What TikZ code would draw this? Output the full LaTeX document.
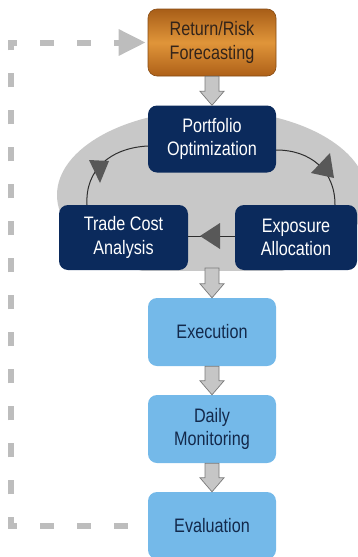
\documentclass[tikz,border=0pt]{standalone}
\usepackage{fontspec}
\setmainfont{Liberation Sans}[FakeStretch=0.83]
\usetikzlibrary{arrows.meta,calc}
\definecolor{navy}{HTML}{0B2A5C}
\definecolor{lblue}{HTML}{74B9E9}
\definecolor{btext}{HTML}{13294B}
\definecolor{ellgray}{HTML}{C8C8C8}
\definecolor{dashgray}{HTML}{BDBDBD}
\definecolor{arrfill}{HTML}{C6C6C6}
\definecolor{arrdraw}{HTML}{7A7A7A}
\definecolor{headgray}{HTML}{585858}
\definecolor{cyclegray}{HTML}{2E2E2E}
\definecolor{orgtop}{HTML}{A85E18}
\definecolor{orgmid}{HTML}{E0953A}
\definecolor{orgbot}{HTML}{AE6018}
\definecolor{orgtext}{HTML}{33241A}
\newcommand\bdarrow[2]{%
  \draw[blockarr] ($(#1)+(-7,0)$) -- ($(#2)+(-7,-14)$) -- ($(#2)+(-12,-14)$) -- (#2)
    -- ($(#2)+(12,-14)$) -- ($(#2)+(7,-14)$) -- ($(#1)+(7,0)$) -- cycle;}
\tikzset{
  box/.style={rounded corners=9pt, minimum width=128pt, minimum height=67pt,
    align=center, inner sep=0pt, font=\fontsize{19.5}{23.5}\selectfont},
  orangebox/.style={box, draw=orgtop!80!black, line width=0.6pt, top color=orgtop, bottom color=orgbot, middle color=orgmid, text=orgtext},
  navybox/.style={box, fill=navy, text=white},
  bluebox/.style={box, fill=lblue, text=btext},
  blockarr/.style={fill=arrfill, draw=arrdraw, line width=0.7pt, line join=miter},
  cycleline/.style={draw=cyclegray, line width=1pt},
  headtri/.style={fill=headgray},
  dashline/.style={draw=dashgray, line width=6pt, dash pattern=on 14pt off 23pt,
    -{Triangle[length=27pt,width=25pt]}}
}
\begin{document}
\begin{tikzpicture}[x=1pt,y=-1pt]
\useasboundingbox (0,0) rectangle (358,557);
% gray ellipse background
\begin{scope}
  \clip (0,0) rectangle (358,270);
  \fill[ellgray] (212,195) ellipse [x radius=155, y radius=85];
\end{scope}
% nodes
\node[orangebox] (ret) at (212,42.5) {Return/Risk\\Forecasting};
\node[navybox] (port) at (212,139) {Portfolio\\Optimization};
\node[navybox, minimum width=129pt, minimum height=65pt] (tca) at (123.5,237.5) {Trade Cost\\Analysis};
\node[navybox, minimum width=122pt, minimum height=65pt] (expo) at (296,237.5) {Exposure\\Allocation};
\node[bluebox, minimum height=68pt] (exec) at (212,332) {Execution};
\node[bluebox, minimum height=68pt] (daily) at (212,429) {Daily\\Monitoring};
\node[bluebox] (eval) at (212,525.5) {Evaluation};
% cycle connectors
\draw[cycleline] (port.east |- 0,150) .. controls (310,150) and (335,170) .. (expo.north -| 335,0);
\draw[cycleline] (expo.west |- 0,236) -- (tca.east |- 0,236);
\draw[cycleline] (tca.north -| 87,0) .. controls (85,170) and (110,148) .. (port.west |- 0,146);
\fill[headtri] (311,173) -- (330,153) -- (334,178) -- cycle;
\fill[headtri] (200,236) -- (220,223) -- (220,249) -- cycle;
\fill[headtri] (89,160) -- (109,161) -- (100,183) -- cycle;
% block arrows
\coordinate (cyclebottom) at (212,268);
\bdarrow{ret.south}{port.north}
\bdarrow{cyclebottom}{exec.north}
\bdarrow{exec.south}{daily.north}
\bdarrow{daily.south}{eval.north}
% dashed feedback
\coordinate (dl) at (11,525.5);
\coordinate (ul) at (11,42.5);
\draw[dashline] ($(eval.west)+(-20,0)$) -- (dl) -- (ul) -- ($(ret.west)+(-2,0)$);
\end{tikzpicture}
\end{document}
